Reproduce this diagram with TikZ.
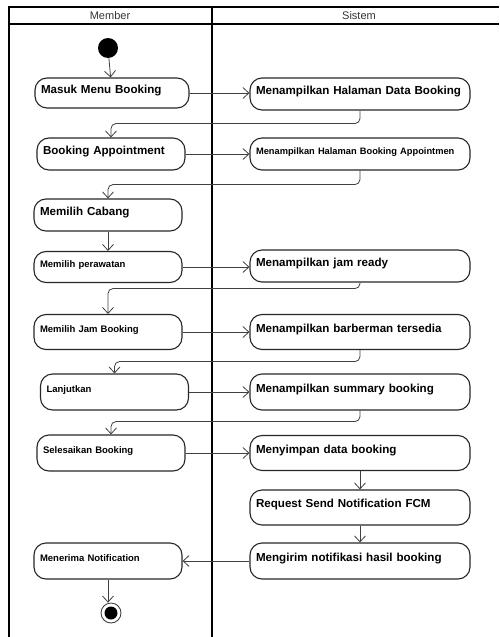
\documentclass[tikz,border=0pt]{standalone}
\usepackage{fontspec}
\setmainfont{Liberation Sans}
\usetikzlibrary{arrows.meta}

\tikzset{
	act/.style={draw=black!85, line width=1.1pt, rounded corners=12pt, text height=0pt, text depth=0pt, inner xsep=6pt, font=\bfseries\fontsize{11.6}{14}\selectfont},
	actsmall/.style={act, font=\bfseries\fontsize{9.5}{12}\selectfont},
	member/.style={text width=136pt},
	sistem/.style={text width=208pt},
	flow/.style={draw=black!75, line width=0.8pt, rounded corners=5pt, -{Straight Barb[length=6pt,width=11pt]}},
	lanehead/.style={font=\fontsize{11}{13}\selectfont, text=black!80},
}

\begin{document}
\begin{tikzpicture}[x=1pt, y=-1pt]
	\useasboundingbox (0,0) rectangle (499,637);
	\draw[line width=1.6pt] (9,637) -- (9,7) -- (499,7);
	\draw[line width=1.6pt] (212,7) -- (212,637);
	\draw[line width=1.2pt] (9,24) -- (499,24);
	\node[lanehead] (memberlbl) at (110,16) {Member};
	\node[lanehead] (sistemlbl) at (359,16) {Sistem};

	\node[circle, fill=black, minimum size=20pt, inner sep=0pt] (start) at (108,48) {};
	\node[act, text width=142pt, minimum height=30pt] (masuk) at (112,93) {\mbox{Masuk Menu Booking}};
	\node[act, sistem, minimum height=32pt] (datab) at (360,94) {\mbox{Menampilkan Halaman Data Booking}};
	\node[act, member, minimum height=32pt] (booking) at (111,154) {\mbox{Booking Appointment}};
	\node[actsmall, sistem, minimum height=32pt, font=\bfseries\fontsize{9.3}{11}\selectfont] (appt) at (360,154) {\mbox{Menampilkan Halaman Booking Appointmen}};
	\node[act, member, minimum height=32pt] (cabang) at (108,215) {Memilih Cabang};
	\node[actsmall, member, minimum height=31pt] (perawatan) at (108,267) {Memilih perawatan};
	\node[act, sistem, minimum height=32pt] (jamready) at (360,266) {Menampilkan jam ready};
	\node[actsmall, member, minimum height=35pt] (jam) at (108,332) {Memilih Jam Booking};
	\node[act, sistem, minimum height=35pt] (barber) at (360,332) {\mbox{Menampilkan barberman tersedia}};
	\node[actsmall, member, minimum height=36pt] (lanjut) at (114.5,392) {Lanjutkan};
	\node[act, sistem, minimum height=36pt] (summary) at (360,392) {\mbox{Menampilkan summary booking}};
	\node[actsmall, member, minimum height=36pt] (selesai) at (111,453) {Selesaikan Booking};
	\node[act, sistem, minimum height=35pt] (simpan) at (360,453) {Menyimpan data booking};
	\node[act, sistem, minimum height=35pt] (request) at (360,507.5) {\mbox{Request Send Notification FCM}};
	\node[act, sistem, minimum height=36pt] (kirim) at (360,561) {\mbox{Mengirim notifikasi hasil booking}};
	\node[actsmall, member, minimum height=36pt] (terima) at (108,561) {Menerima Notification};
	\node[circle, draw=black!80, line width=0.8pt, minimum size=20pt, inner sep=0pt, path picture={\fill (path picture bounding box.center) circle (6.5pt);}] (stop) at (111,613) {};

	\draw[flow] (start) -- (masuk);
	\foreach \a/\b in {masuk/datab, booking/appt, perawatan/jamready, jam/barber, lanjut/summary, selesai/simpan}
	{
		\draw[flow] (\a.east) -- (\a.east -| \b.west);
	}
	\foreach \a/\b/\d in {datab/booking/13, appt/cabang/14, jamready/jam/6, barber/lanjut/11.5, summary/selesai/11}
	{
		\draw[flow] (\a.south) -- ++(0,\d) -| (\b.north);
	}
	\draw[flow] (cabang) -- (perawatan);
	\draw[flow] (simpan) -- (request);
	\draw[flow] (request) -- (kirim);
	\draw[flow] (kirim.west) -- (kirim.west -| terima.east);
	\draw[flow] (terima.south) -- (terima.south |- stop.north);
\end{tikzpicture}
\end{document}
